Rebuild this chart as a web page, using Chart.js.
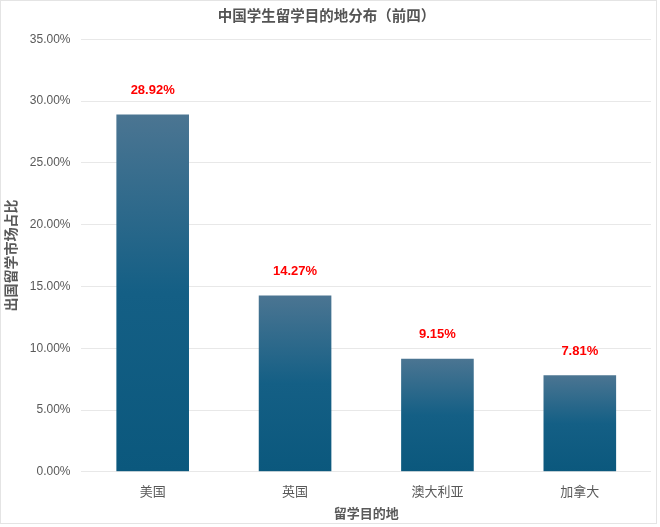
<!DOCTYPE html>
<html>
<head>
<meta charset="utf-8">
<script src="https://cdn.jsdelivr.net/npm/chart.js@4.4.0/dist/chart.umd.min.js"></script>
<style>
  html, body { margin: 0; padding: 0; background: #fff; }
  #wrap { position: absolute; left: 0; top: 0; width: 660px; height: 527px; }
  #frame { position: absolute; left: 0; top: 0; width: 655px; height: 522px; border: 1px solid #e4e4e4; pointer-events: none; }
</style>
</head>
<body>
<div id="wrap"><canvas id="c" width="660" height="527"></canvas><div id="frame"></div></div>
<script>
const categories = ['美国', '英国', '澳大利亚', '加拿大'];
const shares = [28.92, 14.27, 9.15, 7.81];
const yTicks = [0, 5, 10, 15, 20, 25, 30, 35];

const FONT = "'Liberation Sans', 'Noto Sans CJK SC', Arial, sans-serif";
const CJK = "'Noto Sans CJK SC', 'Liberation Sans', sans-serif";

function barGradient(ctx) {
  const chart = ctx.chart;
  const y = chart.scales && chart.scales.y;
  if (!y || !chart.chartArea || ctx.dataIndex === undefined) return '#1a6186';
  const v = ctx.dataset.data[ctx.dataIndex];
  const top = y.getPixelForValue(v);
  const bottom = y.getPixelForValue(0);
  const g = chart.ctx.createLinearGradient(0, top, 0, bottom);
  g.addColorStop(0, '#4b7592');
  g.addColorStop(0.5, '#145f85');
  g.addColorStop(1, '#0b587d');
  return g;
}

const labelPlugin = {
  id: 'valueLabels',
  afterDatasetsDraw(chart) {
    const meta = chart.getDatasetMeta(0);
    const c = chart.ctx;
    c.save();
    c.font = "bold 13px " + FONT;
    c.fillStyle = '#ff0000';
    c.textAlign = 'center';
    c.textBaseline = 'middle';
    meta.data.forEach((el, i) => {
      c.fillText(shares[i].toFixed(2) + '%', el.x, el.y - 24);
    });
    c.restore();
  }
};

new Chart(document.getElementById('c'), {
  type: 'bar',
  data: {
    labels: categories,
    datasets: [{
      data: shares,
      backgroundColor: barGradient,
      borderWidth: 0,
      categoryPercentage: 1.0,
      barPercentage: 0.51
    }]
  },
  options: {
    responsive: false,
    animation: false,
    devicePixelRatio: 1,
    layout: { padding: { left: 2, right: 9, top: 7, bottom: 6 } },
    plugins: {
      legend: { display: false },
      tooltip: { enabled: false },
      title: {
        display: true,
        text: '中国学生留学目的地分布（前四）',
        color: '#545454',
        font: { family: CJK, size: 14.5, weight: 'bold' },
        padding: { top: 0, bottom: 15 }
      }
    },
    scales: {
      x: {
        grid: { display: false },
        border: { display: false },
        ticks: { color: '#595959', font: { family: CJK, size: 13 }, padding: 3 },
        title: {
          display: true,
          text: '留学目的地',
          color: '#595959',
          font: { family: CJK, size: 13, weight: 'bold' },
          padding: { top: 4, bottom: 0 }
        }
      },
      y: {
        min: 0,
        max: 35,
        afterBuildTicks(axis) { axis.ticks = yTicks.map(v => ({ value: v })); },
        grid: { color: '#e8e8e8', lineWidth: 1, drawTicks: false },
        border: { display: false },
        ticks: {
          color: '#595959',
          font: { family: FONT, size: 12 },
          padding: 11,
          callback: v => v.toFixed(2) + '%'
        },
        title: {
          display: true,
          text: '出国留学市场占比',
          color: '#595959',
          font: { family: CJK, size: 14, weight: 'bold' },
          padding: { top: 0, bottom: 0 }
        }
      }
    }
  },
  plugins: [labelPlugin]
});
</script>
</body>
</html>
